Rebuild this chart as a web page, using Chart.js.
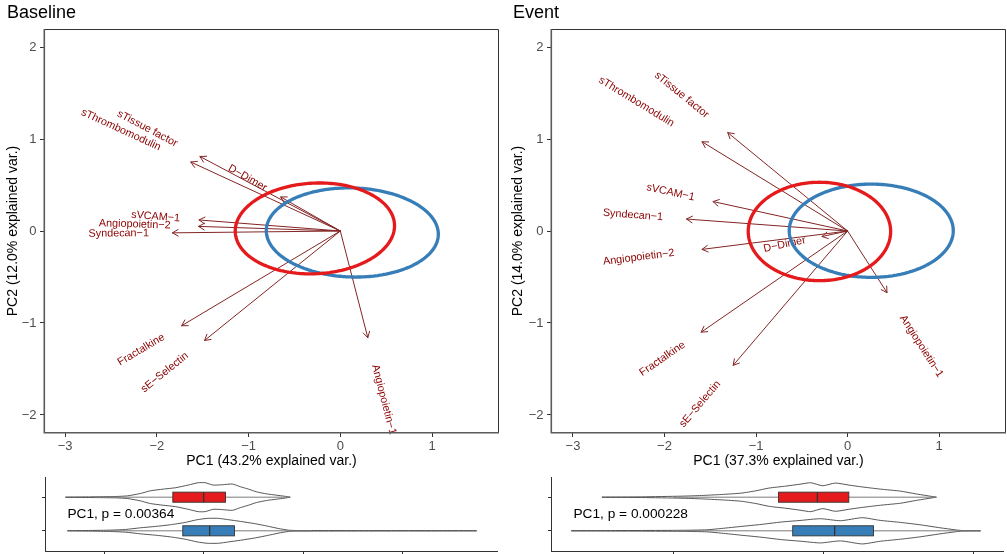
<!doctype html>
<html>

<head>
	<title>PCA biplots - Baseline and Event</title>
	<script src="https://cdn.jsdelivr.net/npm/chart.js@4.4.1/dist/chart.umd.min.js"></script>
	<style>
		body { margin: 0; background: #fff; }
		#wrap { position: relative; width: 1007px; height: 554px; overflow: hidden; }
		canvas { position: absolute; }
	</style>
</head>

<body>
	<div id="wrap">
		<canvas id="baseline-biplot" width="500" height="475" style="left:0;top:0"></canvas>
		<canvas id="event-biplot" width="507" height="475" style="left:500px;top:0"></canvas>
		<canvas id="baseline-violin" width="500" height="79" style="left:0;top:475px"></canvas>
		<canvas id="event-violin" width="507" height="79" style="left:500px;top:475px"></canvas>
	</div>

	<script>
		// variable loadings (arrow tips) on PC1 / PC2
		const variables = ['sTissue factor', 'sThrombomodulin', 'D\u2212Dimer', 'sVCAM\u22121', 'Angiopoietin\u22122',
			'Syndecan\u22121', 'Fractalkine', 'sE\u2212Selectin', 'Angiopoietin\u22121'];
		const baselinePC1 = [-1.53, -1.63, -0.65, -1.54, -1.545, -1.83, -1.73, -1.48, 0.30];
		const baselinePC2 = [0.81, 0.75, 0.37, 0.12, 0.05, -0.02, -1.03, -1.19, -1.16];
		const eventPC1 = [-1.31, -1.59, -0.28, -1.47, -1.59, -1.76, -1.60, -1.25, 0.43];
		const eventPC2 = [1.07, 0.97, -0.06, 0.32, -0.20, 0.13, -1.10, -1.46, -0.67];

		// concentration ellipses: centre PC1, centre PC2, semi-axis PC1, semi-axis PC2, tilt (deg)
		const baselineEllipseRed = [-0.277, 0.028, 0.869, 0.493, 2.8];
		const baselineEllipseBlue = [0.131, -0.016, 0.938, 0.484, -1.6];
		const eventEllipseRed = [-0.308, -0.005, 0.778, 0.535, 0];
		const eventEllipseBlue = [0.258, 0.003, 0.896, 0.507, 0];

		const pcTicks = [-3, -2, -1, 0, 1];
		const pc2Ticks = [-2, -1, 0, 1, 2];

		// violin profiles of PC1 scores (position, half width)
		const baselineViolinRedX = [-2.78, -2.27, -1.77, -1.53, -1.27, -1.07, -0.81, -0.57, -0.31, -0.11, 0.03, 0.19, 0.38, 0.58, 0.74, 0.90, 1.06, 1.26, 1.46, 1.62, 1.74];
		const baselineViolinRedW = [0, 0.01, 0.02, 0.04, 0.11, 0.19, 0.24, 0.28, 0.36, 0.43, 0.43, 0.36, 0.37, 0.39, 0.31, 0.24, 0.16, 0.10, 0.06, 0.03, 0];
		const baselineViolinBlueX = [-2.74, -2.27, -1.87, -1.57, -1.27, -0.97, -0.67, -0.37, -0.13, 0.07, 0.30, 0.50, 0.74, 1.04, 1.28, 1.50, 1.70, 1.84, 2.34, 3.14, 3.95, 4.75, 5.49];
		const baselineViolinBlueW = [0, 0.01, 0.02, 0.04, 0.09, 0.13, 0.18, 0.25, 0.33, 0.37, 0.37, 0.33, 0.28, 0.21, 0.14, 0.07, 0.02, 0.01, 0.006, 0.004, 0.003, 0.003, 0];
		const eventViolinRedX = [-2.96, -2.43, -1.90, -1.63, -1.36, -1.10, -0.90, -0.73, -0.50, -0.30, -0.17, -0.01, 0.16, 0.34, 0.50, 0.76, 1.03, 1.23, 1.37, 1.51];
		const eventViolinRedW = [0, 0.01, 0.03, 0.05, 0.08, 0.12, 0.19, 0.27, 0.33, 0.39, 0.43, 0.34, 0.42, 0.36, 0.31, 0.24, 0.18, 0.10, 0.05, 0];
		const eventViolinBlueX = [-3.37, -2.96, -2.43, -1.90, -1.56, -1.36, -1.10, -0.83, -0.57, -0.30, -0.04, 0.23, 0.52, 0.76, 1.03, 1.29, 1.56, 1.76, 1.85, 2.10];
		const eventViolinBlueW = [0, 0.005, 0.01, 0.015, 0.03, 0.07, 0.13, 0.19, 0.26, 0.31, 0.36, 0.30, 0.39, 0.31, 0.25, 0.18, 0.09, 0.03, 0.01, 0];

		// boxplots: whisker low, Q1, median, Q3, whisker high
		const baselineBoxRed = [-2.21, -0.62, 0.00, 0.44, 1.74];
		const baselineBoxBlue = [-1.98, -0.42, 0.12, 0.62, 2.18];
		const eventBoxRed = [-2.01, -0.60, -0.08, 0.34, 1.51];
		const eventBoxBlue = [-2.03, -0.41, 0.15, 0.67, 2.10];

		const baselineTest = 'PC1, p = 0.00364';
		const eventTest = 'PC1, p = 0.000228';

		const FONT = '"Liberation Sans", Arial, Helvetica, sans-serif';
		const RED = '#E41A1C';
		const BLUE = '#377EB8';
		const ARROW = '#832424';
		const LABEL = '#8B0000';
		const LABEL_ADJUST = 1.78;

		Chart.defaults.font.family = FONT;

		function fmtTick(v) {
			return v < 0 ? '\u2212' + Math.abs(v) : String(v);
		}

		function ellipsePoints(e) {
			const [cx, cy, a, b, tilt] = e;
			const th = tilt * Math.PI / 180;
			const pts = [];
			for (let i = 0; i <= 120; i++) {
				const t = Math.PI / 2 + 2 * Math.PI * i / 120;
				pts.push({
					x: cx + a * Math.cos(t) * Math.cos(th) - b * Math.sin(t) * Math.sin(th),
					y: cy + a * Math.cos(t) * Math.sin(th) + b * Math.sin(t) * Math.cos(th)
				});
			}
			return pts;
		}

		function biplotDecor(title, titleX, pc1, pc2) {
			return {
				id: 'biplotDecor',
				afterDatasetDraw(chart, args) {
					// arrows are datasets 2.., drawn in reverse; index 2 is the last one
					if (args.index !== 2) return;
					const ctx = chart.ctx;
					const x = chart.scales.x, y = chart.scales.y;
					const x0 = x.getPixelForValue(0), y0 = y.getPixelForValue(0);
					ctx.save();
					ctx.strokeStyle = ARROW;
					ctx.lineWidth = 1;
					pc1.forEach((vx, i) => {
						const px = x.getPixelForValue(vx), py = y.getPixelForValue(pc2[i]);
						const ang = Math.atan2(py - y0, px - x0) + Math.PI;
						ctx.beginPath();
						ctx.moveTo(px + 7 * Math.cos(ang - Math.PI / 6), py + 7 * Math.sin(ang - Math.PI / 6));
						ctx.lineTo(px, py);
						ctx.lineTo(px + 7 * Math.cos(ang + Math.PI / 6), py + 7 * Math.sin(ang + Math.PI / 6));
						ctx.stroke();
					});
					ctx.fillStyle = LABEL;
					ctx.font = '10.8px ' + FONT;
					ctx.textAlign = 'left';
					ctx.textBaseline = 'middle';
					variables.forEach((name, i) => {
						const vx = pc1[i], vy = pc2[i];
						const px = x.getPixelForValue(vx), py = y.getPixelForValue(vy);
						const rot = Math.atan(vy / vx);
						const h = (1 - LABEL_ADJUST * Math.sign(vx)) / 2;
						const w = ctx.measureText(name).width;
						ctx.save();
						ctx.translate(px, py);
						ctx.rotate(-rot);
						ctx.fillText(name, -h * w, 0);
						ctx.restore();
					});
					ctx.restore();
				},
				afterDraw(chart) {
					const ctx = chart.ctx;
					const a = chart.chartArea;
					ctx.save();
					ctx.strokeStyle = '#333';
					ctx.lineWidth = 1;
					ctx.beginPath();
					ctx.moveTo(a.left, a.top + 0.5);
					ctx.lineTo(a.right - 0.5, a.top + 0.5);
					ctx.lineTo(a.right - 0.5, a.bottom);
					ctx.stroke();
					ctx.strokeStyle = '#5a5a5a';
					ctx.lineWidth = 1.6;
					ctx.beginPath();
					ctx.moveTo(a.left + 0.3, a.top);
					ctx.lineTo(a.left + 0.3, a.bottom - 0.3);
					ctx.lineTo(a.right, a.bottom - 0.3);
					ctx.stroke();
					ctx.fillStyle = '#000';
					ctx.font = '18px ' + FONT;
					ctx.textAlign = 'left';
					ctx.textBaseline = 'alphabetic';
					ctx.fillText(title, titleX, 18);
					ctx.restore();
				}
			};
		}

		function biplot(id, title, titleX, pc1, pc2, ellRed, ellBlue, xTitle, yTitle, xMin, xMax, yWidth, yTitlePad) {
			const datasets = [
				{ data: ellipsePoints(ellRed), borderColor: RED, borderWidth: 3.3, tension: 0.01 },
				{ data: ellipsePoints(ellBlue), borderColor: BLUE, borderWidth: 3.3, tension: 0.01 }
			];
			pc1.forEach((vx, i) => {
				datasets.push({ data: [{ x: 0, y: 0 }, { x: vx, y: pc2[i] }], borderColor: ARROW, borderWidth: 1 });
			});
			datasets.forEach(d => {
				d.showLine = true; d.pointRadius = 0; d.fill = false;
				d.borderCapStyle = 'round'; d.borderJoinStyle = 'round';
			});

			return new Chart(document.getElementById(id), {
				type: 'scatter',
				data: { datasets },
				plugins: [biplotDecor(title, titleX, pc1, pc2)],
				options: {
					responsive: false,
					animation: false,
					events: [],
					layout: { padding: { top: 29, right: 1, bottom: 0, left: 0 } },
					plugins: { legend: { display: false }, tooltip: { enabled: false } },
					scales: {
						x: {
							type: 'linear', min: xMin, max: xMax,
							afterBuildTicks: s => { s.ticks = pcTicks.map(v => ({ value: v })); },
							afterFit: s => { s.height = 42; },
							border: { display: false },
							grid: { drawOnChartArea: false, drawTicks: true, tickLength: 4, color: '#333' },
							ticks: { color: '#4D4D4D', font: { size: 13 }, padding: 2, maxRotation: 0, autoSkip: false, callback: fmtTick },
							title: { display: true, text: xTitle, color: '#000', font: { size: 14 }, padding: { top: 0, bottom: 5.6 } }
						},
						y: {
							type: 'linear', min: -2.196, max: 2.196,
							afterBuildTicks: s => { s.ticks = pc2Ticks.map(v => ({ value: v })); },
							afterFit: s => { s.width = yWidth; },
							border: { display: false },
							grid: { drawOnChartArea: false, drawTicks: true, tickLength: 4, color: '#333' },
							ticks: { color: '#4D4D4D', font: { size: 13 }, padding: 3.5, autoSkip: false, callback: fmtTick },
							title: { display: true, text: yTitle, color: '#000', font: { size: 14 }, padding: { top: yTitlePad, bottom: 0 } }
						}
					}
				}
			});
		}

		function violinOutline(xs, ws, c) {
			const pts = xs.map((x, i) => ({ x, y: c + ws[i] }));
			for (let i = xs.length - 1; i >= 0; i--) pts.push({ x: xs[i], y: c - ws[i] });
			pts.push(pts[0]);
			return pts;
		}

		function boxDecor(boxes, label, labelX) {
			return {
				id: 'boxDecor',
				afterDatasetsDraw(chart) {
					const ctx = chart.ctx;
					const x = chart.scales.x, y = chart.scales.y;
					ctx.save();
					boxes.forEach(b => {
						const [lo, q1, med, q3, hi] = b.stats;
						const yc = y.getPixelForValue(b.pos);
						const yt = y.getPixelForValue(b.pos + 0.15), yb = y.getPixelForValue(b.pos - 0.15);
						ctx.strokeStyle = '#7a7a7a';
						ctx.lineWidth = 1;
						ctx.beginPath();
						ctx.moveTo(x.getPixelForValue(lo), yc);
						ctx.lineTo(x.getPixelForValue(hi), yc);
						ctx.stroke();
						const x1 = x.getPixelForValue(q1), x3 = x.getPixelForValue(q3);
						ctx.fillStyle = b.color;
						ctx.fillRect(x1, yt, x3 - x1, yb - yt);
						ctx.strokeStyle = '#333';
						ctx.lineWidth = 0.9;
						ctx.strokeRect(x1, yt, x3 - x1, yb - yt);
						const xm = x.getPixelForValue(med);
						ctx.lineWidth = 1.3;
						ctx.beginPath();
						ctx.moveTo(xm, yt);
						ctx.lineTo(xm, yb);
						ctx.stroke();
					});
					ctx.fillStyle = '#000';
					ctx.font = '13.7px ' + FONT;
					ctx.textAlign = 'left';
					ctx.textBaseline = 'middle';
					ctx.fillText(label, x.getPixelForValue(labelX), y.getPixelForValue(1.5));
					ctx.restore();
				}
			};
		}

		function violinPlot(id, red, blue, boxRed, boxBlue, xMin, xMax, ticks, yWidth, padRight, label, labelX) {
			const datasets = [
				{ data: violinOutline(red[0], red[1], 2) },
				{ data: violinOutline(blue[0], blue[1], 1) }
			];
			datasets.forEach(d => {
				d.showLine = true; d.pointRadius = 0; d.fill = false;
				d.borderColor = '#444'; d.borderWidth = 0.9; d.tension = 0.2;
			});
			return new Chart(document.getElementById(id), {
				type: 'scatter',
				data: { datasets },
				plugins: [boxDecor([
					{ stats: boxRed, pos: 2, color: RED },
					{ stats: boxBlue, pos: 1, color: BLUE }
				], label, labelX)],
				options: {
					responsive: false,
					animation: false,
					events: [],
					layout: { padding: { top: 2, right: padRight, bottom: 0, left: 0 } },
					plugins: { legend: { display: false }, tooltip: { enabled: false } },
					scales: {
						x: {
							type: 'linear', min: xMin, max: xMax,
							afterBuildTicks: s => { s.ticks = ticks.map(v => ({ value: v })); },
							afterFit: s => { s.height = 3; },
							border: { display: true, color: '#333', width: 1 },
							grid: { drawOnChartArea: false, drawTicks: true, tickLength: 3, color: '#333' },
							ticks: { display: false }
						},
						y: {
							type: 'linear', min: 0.4, max: 2.6,
							afterBuildTicks: s => { s.ticks = [1, 2].map(v => ({ value: v })); },
							afterFit: s => { s.width = yWidth; },
							border: { display: true, color: '#333', width: 1 },
							grid: { drawOnChartArea: false, drawTicks: true, tickLength: 3, color: '#333' },
							ticks: { display: false }
						}
					}
				}
			});
		}

		biplot('baseline-biplot', 'Baseline', 7, baselinePC1, baselinePC2, baselineEllipseRed, baselineEllipseBlue,
			'PC1 (43.2% explained var.)', 'PC2 (12.0% explained var.)', -3.23, 1.73, 44, 4.9);
		biplot('event-biplot', 'Event', 13, eventPC1, eventPC2, eventEllipseRed, eventEllipseBlue,
			'PC1 (37.3% explained var.)', 'PC2 (14.0% explained var.)', -3.24, 1.73, 51, 9.9);

		violinPlot('baseline-violin', [baselineViolinRedX, baselineViolinRedW], [baselineViolinBlueX, baselineViolinBlueW],
			baselineBoxRed, baselineBoxBlue, -3.19, 5.91, [-2, 0, 2, 4], 45, 2.4, baselineTest, -2.74);
		violinPlot('event-violin', [eventViolinRedX, eventViolinRedW], [eventViolinBlueX, eventViolinBlueW],
			eventBoxRed, eventBoxBlue, -3.64, 2.40, [-2, 0, 2], 51, 4, eventTest, -3.34);
	</script>
</body>

</html>
